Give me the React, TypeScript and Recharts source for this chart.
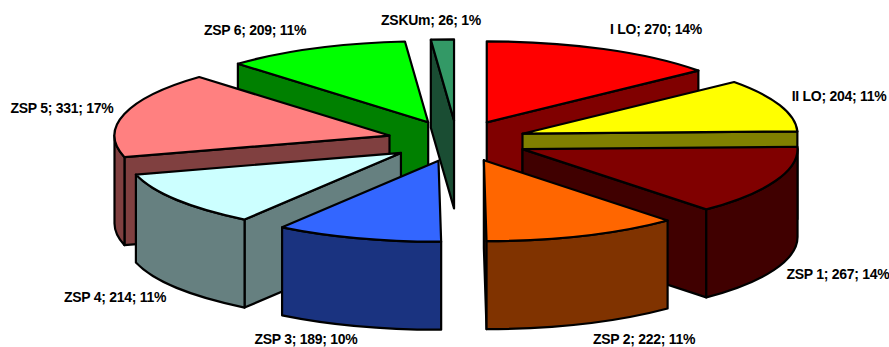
import { PieChart, Pie } from 'recharts';

const names = ['I LO', 'II LO', 'ZSP 1', 'ZSP 2', 'ZSP 3', 'ZSP 4', 'ZSP 5', 'ZSP 6', 'ZSKUm'];
const values = [270, 204, 267, 222, 189, 214, 331, 209, 26];
const topColors = ['#FF0000', '#FFFF00', '#800000', '#FF6600', '#3366FF', '#CCFFFF', '#FF8080', '#00FF00', '#339966'];
const wallColors = ['#800000', '#808000', '#400000', '#803300', '#1A3380', '#668080', '#804040', '#008000', '#1A4D33'];

// back to front, so nearer slices paint over the ones behind them
const drawOrder = ['ZSKUm', 'ZSP 6', 'I LO', 'ZSP 5', 'II LO', 'ZSP 1', 'ZSP 4', 'ZSP 2', 'ZSP 3'];

const labelSpots: Record<string, [number, number]> = {
  'I LO': [656, 34],
  'II LO': [839, 101],
  'ZSP 1': [838, 279],
  'ZSP 2': [644, 344],
  'ZSP 3': [306, 344],
  'ZSP 4': [115, 302],
  'ZSP 5': [62, 113],
  'ZSP 6': [255, 35],
  'ZSKUm': [431, 25],
};

// the front slices sit a little to the right of a pure radial explode
const sliceNudge: Record<string, number> = { 'ZSP 1': 1.2, 'ZSP 2': 1.5, 'ZSP 3': 2, 'ZSP 4': 1 };

const data = names.map((name, i) => ({ name, value: values[i] }));

const SQUASH = 81 / 275;
const DEPTH = 88;
const EXPLODE = 70;

function onEllipse(cx: number, cy: number, r: number, clock: number) {
  const a = (clock * Math.PI) / 180;
  return { x: cx + r * Math.sin(a), y: cy - r * SQUASH * Math.cos(a) };
}

function Slice(props: any, layer: string) {
  const { name, value, percent, cx, cy, outerRadius: r, startAngle, endAngle } = props;
  if (name !== layer) return <g />;

  const i = names.indexOf(name);
  // recharts angles run counter-clockwise from 3 o'clock, here clockwise from 12
  const a = 90 - startAngle;
  const b = 90 - endAngle;
  const mid = (a + b) / 2;
  const apex = onEllipse(cx + (sliceNudge[name] || 0), cy, EXPLODE, mid);
  const from = onEllipse(apex.x, apex.y, r, a);
  const to = onEllipse(apex.x, apex.y, r, b);
  const line = { stroke: '#000', strokeWidth: 2.2, strokeLinejoin: 'round' as const };
  const rim = `${r} ${r * SQUASH}`;
  const large = b - a > 180 ? 1 : 0;

  const radialWall = (p: { x: number; y: number }) =>
    `M${apex.x},${apex.y} L${p.x},${p.y} L${p.x},${p.y + DEPTH} L${apex.x},${apex.y + DEPTH} Z`;

  const sinA = Math.sin((a * Math.PI) / 180);
  const sinB = Math.sin((b * Math.PI) / 180);
  const frontFrom = Math.max(a, 90);
  const frontTo = Math.min(b, 270);
  const w0 = onEllipse(apex.x, apex.y, r, frontFrom);
  const w1 = onEllipse(apex.x, apex.y, r, frontTo);

  const [lx, ly] = labelSpots[name];

  return (
    <g>
      {sinA < -0.001 && <path d={radialWall(from)} fill={wallColors[i]} {...line} />}
      {sinB > 0.001 && <path d={radialWall(to)} fill={wallColors[i]} {...line} />}
      {frontTo > frontFrom && (
        <path
          d={`M${w0.x},${w0.y} A${rim} 0 0 1 ${w1.x},${w1.y} L${w1.x},${w1.y + DEPTH} A${rim} 0 0 0 ${w0.x},${w0.y + DEPTH} Z`}
          fill={wallColors[i]}
          {...line}
        />
      )}
      <path
        d={`M${apex.x},${apex.y} L${from.x},${from.y} A${rim} 0 ${large} 1 ${to.x},${to.y} Z`}
        fill={topColors[i]}
        {...line}
      />
      <text
        x={lx}
        y={ly}
        textAnchor="middle"
        fontFamily="Liberation Sans"
        fontWeight="bold"
        fontSize={14}
        letterSpacing={-0.28}
        fill="#000"
      >
        {`${name}; ${value}; ${Math.round(percent * 100)}%`}
      </text>
    </g>
  );
}

export default function App() {
  return (
    <div style={{ position: 'absolute', left: 0, top: 0, width: 889, height: 347, background: '#fff' }}>
      <PieChart width={889} height={347} margin={{ top: 0, right: 0, bottom: 0, left: 0 }}>
        {drawOrder.map(layer => (
          <Pie
            key={layer}
            data={data}
            dataKey="value"
            nameKey="name"
            cx={457}
            cy={141}
            innerRadius={0}
            outerRadius={275}
            startAngle={90}
            endAngle={-270}
            paddingAngle={0}
            label={false}
            labelLine={false}
            isAnimationActive={false}
            shape={(p: any) => Slice(p, layer)}
          />
        ))}
      </PieChart>
    </div>
  );
}
